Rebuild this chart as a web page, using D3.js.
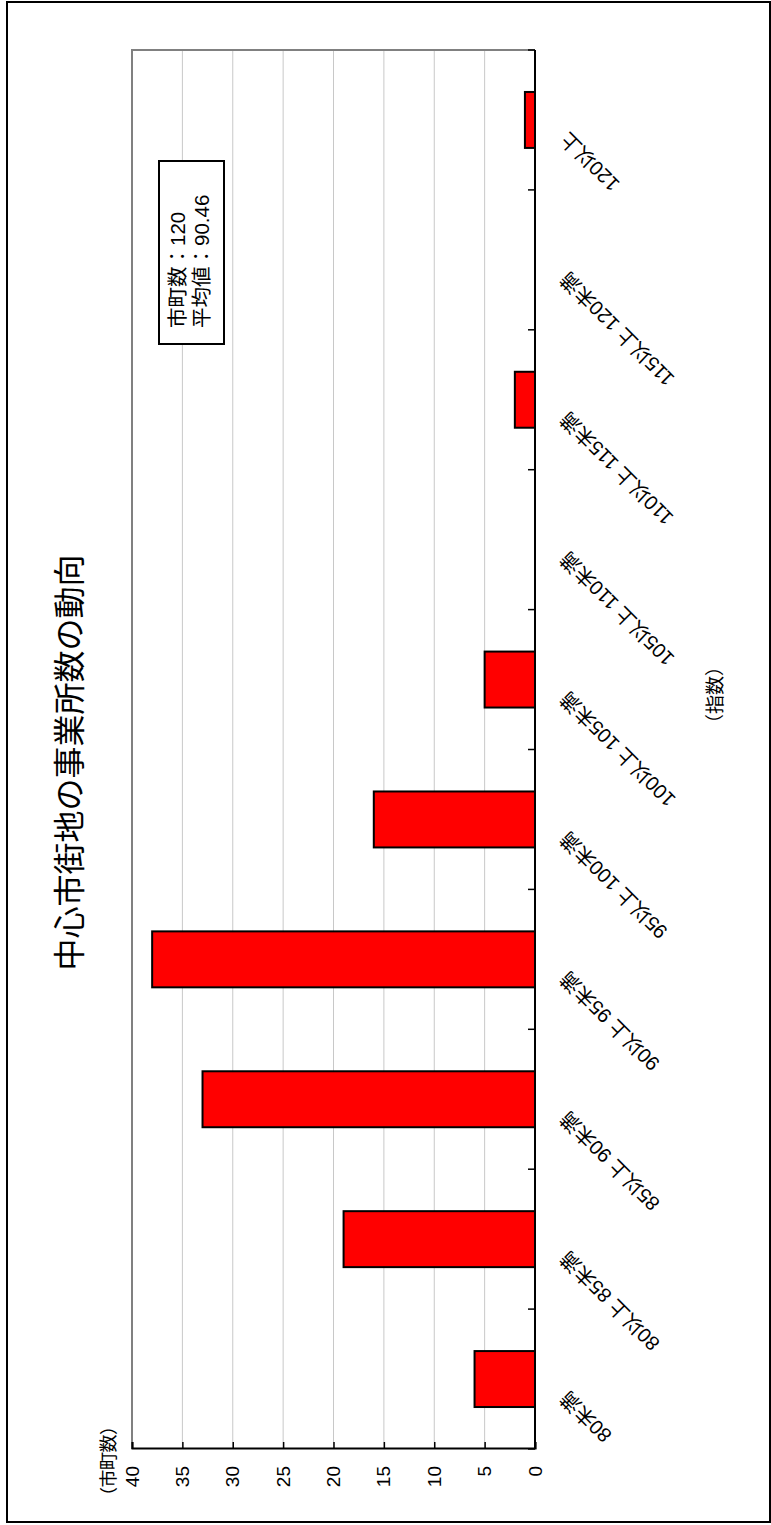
<!DOCTYPE html>
<html>
<head>
<meta charset="utf-8">
<script src="https://cdn.jsdelivr.net/npm/d3@7"></script>
<style>
  body { margin: 0; background: #fff; }
  text { font-family: "Liberation Sans", Arial, "Noto Sans CJK JP", sans-serif; fill: #000; }
  text.cjk { font-family: "Noto Sans CJK JP", sans-serif; }
</style>
</head>
<body>
<div id="chart"></div>
<script>
//// ======================== DATA ======================== ////

var categories = ["80未満", "80以上 85未満", "85以上 90未満", "90以上 95未満", "95以上 100未満",
    "100以上 105未満", "105以上 110未満", "110以上 115未満", "115以上 120未満", "120以上"];
var counts = [6, 19, 33, 38, 16, 5, 0, 2, 0, 1];
var valueTicks = [0, 5, 10, 15, 20, 25, 30, 35, 40];
var titleText = "中心市街地の事業所数の動向";
var yTitle = "（市町数）";
var xTitle = "（指数）";
var noteLines = ["市町数：120", "平均値：90.46"];

//// ======================== LAYOUT ======================== ////

// the chart is drawn landscape and turned a quarter to the left
var pageW = 771, pageH = 1525;
var W = pageH, H = pageW;
var plot = { left: 76, right: 1475, top: 132, bottom: 535 };

var svg = d3.select("#chart").append("svg")
    .attr("width", pageW)
    .attr("height", pageH);

var g = svg.append("g")
    .attr("transform", "translate(0," + pageH + ") rotate(-90)");

// outer frame
g.append("rect")
    .attr("x", 3).attr("y", 7)
    .attr("width", W - 5).attr("height", H - 8)
    .attr("fill", "#fff")
    .attr("stroke", "#000")
    .attr("stroke-width", 2);

var x = d3.scaleBand()
    .domain(categories)
    .range([plot.left, plot.right])
    .paddingInner(0.6)
    .paddingOuter(0.3);

var y = d3.scaleLinear()
    .domain([0, 40])
    .range([plot.bottom, plot.top]);

//// ======================== GRID & FRAME ======================== ////

g.selectAll(".grid")
    .data(valueTicks.filter(function(d) { return d > 0 && d < 40; }))
    .enter().append("line")
    .attr("class", "grid")
    .attr("x1", plot.left).attr("x2", plot.right)
    .attr("y1", function(d) { return y(d); })
    .attr("y2", function(d) { return y(d); })
    .attr("stroke", "#c8c8c8")
    .attr("stroke-width", 1);

// top + right edge of plot area in grey
g.append("path")
    .attr("d", "M" + plot.left + "," + y(40) + "H" + plot.right + "V" + y(0))
    .attr("fill", "none")
    .attr("stroke", "#808080")
    .attr("stroke-width", 2);

//// ======================== BARS ======================== ////

g.selectAll(".bar")
    .data(counts)
    .enter().append("rect")
    .attr("class", "bar")
    .attr("x", function(d, i) { return x(categories[i]); })
    .attr("width", x.bandwidth())
    .attr("y", function(d) { return y(d); })
    .attr("height", function(d) { return y(0) - y(d); })
    .attr("fill", "#ff0000")
    .attr("stroke", "#000")
    .attr("stroke-width", 2)
    .style("display", function(d) { return d > 0 ? null : "none"; });

//// ======================== AXES ======================== ////

var yAxis = g.append("g")
    .attr("transform", "translate(" + plot.left + ",0)")
    .call(d3.axisLeft(y).tickValues(valueTicks).tickSize(-7).tickPadding(17));
yAxis.select(".domain").attr("stroke", "#000").attr("stroke-width", 2);
yAxis.selectAll(".tick line").attr("stroke", "#000").attr("stroke-width", 1.5);
yAxis.selectAll(".tick text")
    .style("font-size", "19px")
    .attr("fill", "#000");

// category axis line with ticks between bands
var step = x.step();
var bounds = d3.range(categories.length + 1).map(function(i) { return plot.left + i * step; });

g.append("line")
    .attr("x1", plot.left).attr("x2", plot.right)
    .attr("y1", plot.bottom).attr("y2", plot.bottom)
    .attr("stroke", "#000").attr("stroke-width", 2);

g.selectAll(".xtick")
    .data(bounds)
    .enter().append("line")
    .attr("class", "xtick")
    .attr("x1", function(d) { return d; }).attr("x2", function(d) { return d; })
    .attr("y1", plot.bottom).attr("y2", plot.bottom - 7)
    .attr("stroke", "#000").attr("stroke-width", 1.5);

g.selectAll(".xlabel")
    .data(categories)
    .enter().append("text")
    .attr("class", "xlabel")
    .attr("transform", function(d) {
        return "translate(" + (x(d) + x.bandwidth() / 2 - 16) + "," + (plot.bottom + 29) + ") rotate(-45)";
    })
    .attr("dy", "0.35em")
    .attr("text-anchor", "end")
    .style("font-size", "20px")
    .text(function(d) { return d; });

//// ======================== TEXTS ======================== ////

g.append("text")
    .attr("class", "cjk")
    .attr("x", W / 2)
    .attr("y", 81)
    .attr("text-anchor", "middle")
    .style("font-size", "32px")
    .text(titleText);

g.append("text")
    .attr("class", "cjk")
    .attr("x", 20)
    .attr("y", 115)
    .attr("textLength", 88)
    .attr("lengthAdjust", "spacing")
    .style("font-size", "18px")
    .text(yTitle);

g.append("text")
    .attr("class", "cjk")
    .attr("x", 792)
    .attr("y", 722)
    .attr("textLength", 76)
    .attr("lengthAdjust", "spacing")
    .style("font-size", "19px")
    .text(xTitle);

// note box
var note = g.append("g").attr("transform", "translate(1181,159)");
note.append("rect")
    .attr("width", 183).attr("height", 65)
    .attr("fill", "#fff")
    .attr("stroke", "#000")
    .attr("stroke-width", 2);
note.selectAll("text")
    .data(noteLines)
    .enter().append("text")
    .attr("x", 16)
    .attr("y", function(d, i) { return 26 + i * 24; })
    .style("font-size", "20.5px")
    .text(function(d) { return d; });
</script>
</body>
</html>
